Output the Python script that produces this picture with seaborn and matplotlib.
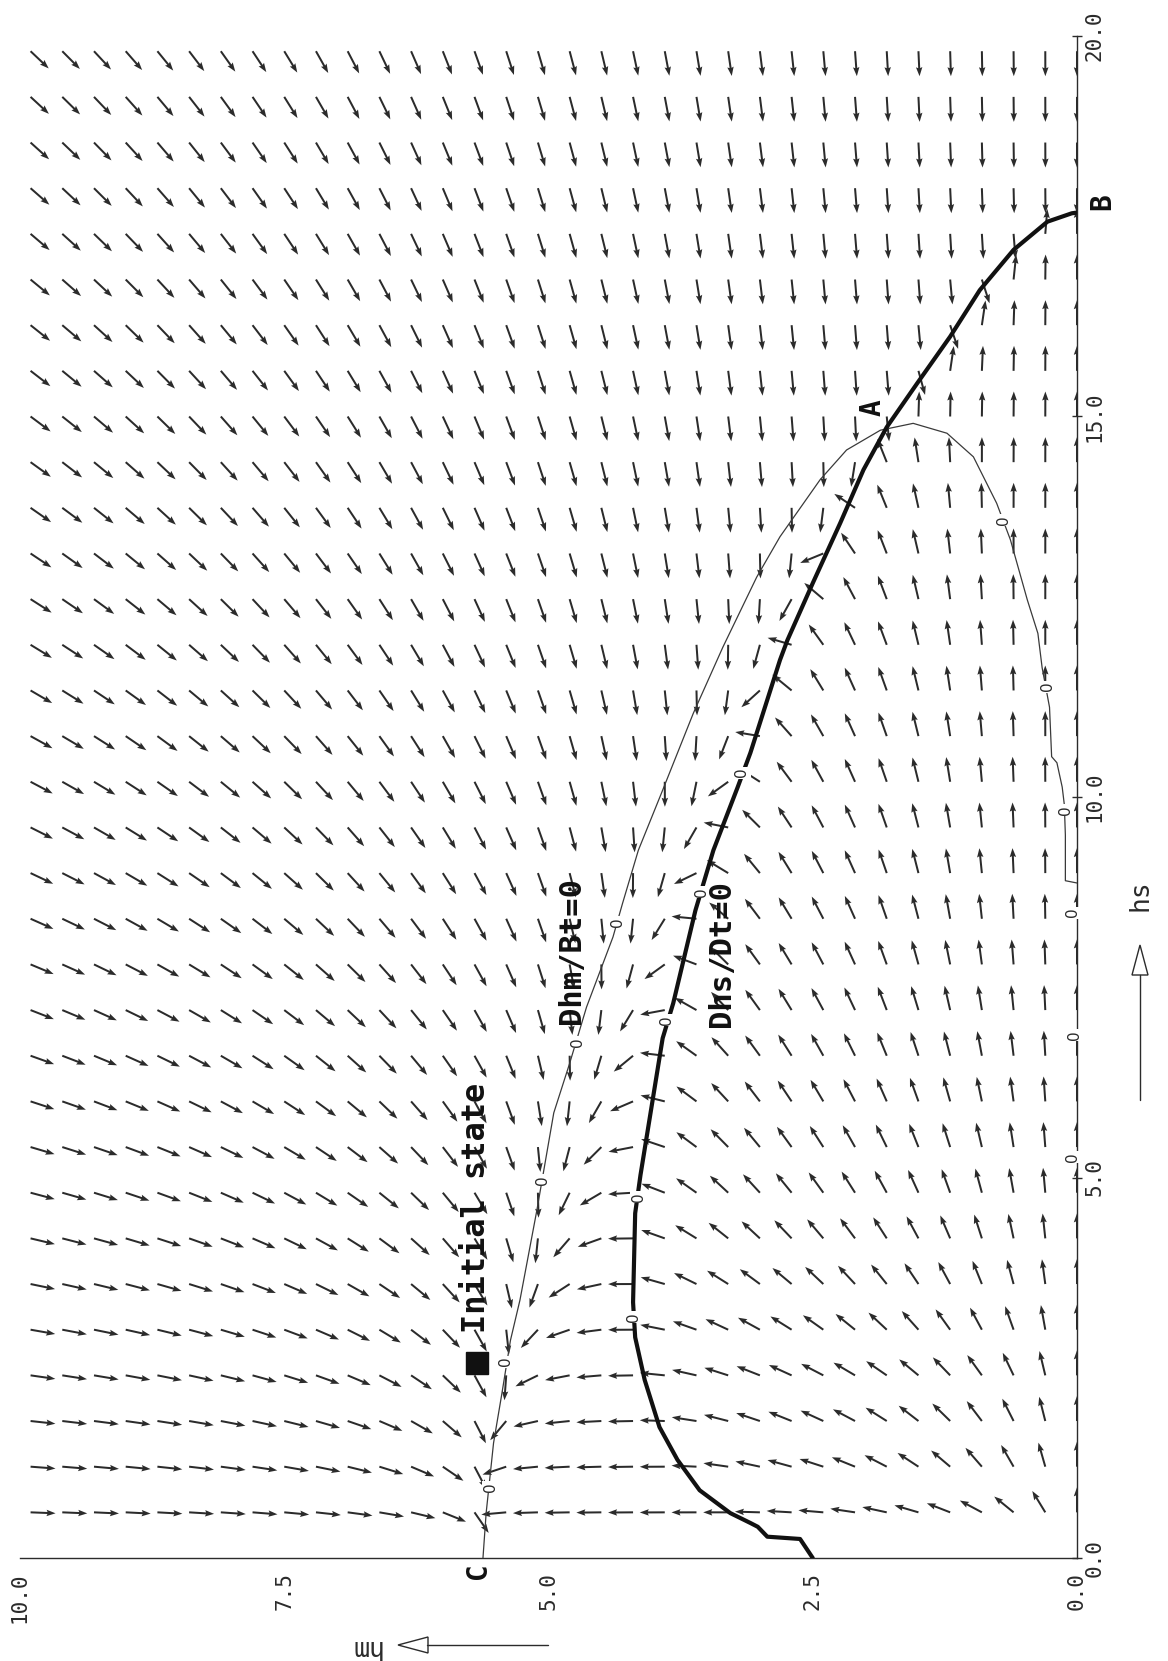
import numpy as np
import matplotlib
matplotlib.use("Agg")
import matplotlib.pyplot as plt
from matplotlib.path import Path
from matplotlib.lines import Line2D
from matplotlib.patches import Polygon
import seaborn as sns

# ---------------- data (hm, hs) ----------------
# Dhm/Dt = 0 contour (thin line), from C to the hs axis
thin_hm = [5.62, 5.59, 5.52, 5.44, 5.36, 5.27, 5.11, 5.00, 4.95, 4.80, 4.64, 4.39, 4.30,
           4.15, 3.92, 3.63, 3.35, 3.03, 2.81, 2.43, 2.18, 1.86, 1.55, 1.23, 0.98, 0.76,
           0.63, 0.47, 0.37, 0.33, 0.26, 0.24, 0.19, 0.14, 0.12, 0.11, 0.11, 0.00]
thin_hs = [0.00, 0.59, 1.51, 2.17, 2.86, 3.39, 4.57, 5.45, 5.85, 6.50, 7.24, 8.16, 8.60,
           9.30, 10.09, 11.10, 11.97, 12.89, 13.42, 14.17, 14.56, 14.82, 14.91, 14.78, 14.47, 13.86,
           13.38, 12.59, 12.15, 11.70, 11.18, 10.53, 10.45, 10.13, 9.90, 9.50, 8.90, 8.87]
# Dhs/Dt = 0 contour (thick line), from the hm axis to B
thick_hm = [2.50, 2.62, 2.93, 3.02, 3.09, 3.28, 3.57, 3.78, 3.95, 4.09, 4.18, 4.20, 4.18,
            4.13, 3.92, 3.82, 3.61, 3.44, 3.21, 3.09, 2.81, 2.74, 2.50, 2.24, 2.02, 1.80,
            1.51, 1.20, 0.92, 0.60, 0.28, 0.05, 0.00]
thick_hs = [0.00, 0.25, 0.28, 0.41, 0.46, 0.59, 0.89, 1.29, 1.72, 2.34, 2.90, 3.36, 4.53,
            5.03, 6.83, 7.29, 8.51, 9.30, 10.13, 10.58, 11.80, 12.06, 12.81, 13.60, 14.30, 14.86,
            15.44, 16.05, 16.66, 17.19, 17.56, 17.67, 17.68]
# contour labels "0"
thin_lab_hm = [5.55, 5.41, 5.06, 4.73, 4.35, 0.70, 0.28, 0.11, 0.04, 0.02, 0.04]
thin_lab_hs = [0.93, 2.58, 4.97, 6.78, 8.36, 13.64, 11.45, 9.83, 8.48, 6.87, 5.27]
thick_lab_hm = [3.17, 3.55, 3.88, 4.15, 4.20]
thick_lab_hs = [10.32, 8.75, 7.07, 4.74, 3.17]
# direction-field grid
grid_hm = [round(0.3 * i, 1) for i in range(34)]
grid_hs = [round(0.6 * j, 1) for j in range(1, 34)]
# ticks
hm_ticks = [10.0, 7.5, 5.0, 2.5, 0.0]
hm_tick_labels = ["10.0", "7.5", "5.0", "2.5", "0.0"]
hs_ticks = [0.0, 5.0, 10.0, 15.0, 20.0]
hs_tick_labels = ["0.0", "5.0", "10.0", "15.0", "20.0"]
# annotations
point_labels = ["A", "B", "C"]
point_hm = [1.93, -0.24, 5.67]
point_hs = [15.12, 17.82, -0.16]
init_hm = [5.68]
init_hs = [2.56]

# ---------------- figure ----------------
sns.set_theme(style="white")
plt.rcParams['font.family'] = ['DejaVu Sans Mono', 'DejaVu Sans']
INK = '#2b2b2b'

W, H = 1168, 1661
fig = plt.figure(figsize=(W / 100, H / 100), dpi=100)
L, R, B, T = 20, 1077, 1558, 36
ax = fig.add_axes([L / W, 1 - B / H, (R - L) / W, (B - T) / H])
ax.set_xlim(10, 0)
ax.set_ylim(0, 20)
Pm = (R - L) / 10.0
Ps = (B - T) / 20.0

# ---------------- direction field from the read nullclines ----------------
M, S = np.meshgrid(np.array(grid_hm), np.array(grid_hs))


def polyline_dist(px, py, lx, ly):
    d = np.full(px.shape, np.inf)
    for x0, y0, x1, y1 in zip(lx[:-1], ly[:-1], lx[1:], ly[1:]):
        dx, dy = x1 - x0, y1 - y0
        l2 = dx * dx + dy * dy
        t = np.zeros_like(px) if l2 == 0 else np.clip(((px - x0) * dx + (py - y0) * dy) / l2, 0, 1)
        d = np.minimum(d, np.hypot(px - (x0 + t * dx), py - (y0 + t * dy)))
    return d


PX, PY = M * Pm, S * Ps
tkx, tky = np.array(thick_hm) * Pm, np.array(thick_hs) * Ps
thx, thy = np.array(thin_hm) * Pm, np.array(thin_hs) * Ps

d_s = polyline_dist(PX, PY, tkx, tky) / Pm
Ms = np.interp(S, thick_hs, thick_hm)
sign_s = np.where((S <= thick_hs[-1]) & (M < Ms), 1.0, -1.0)
phi_s = sign_s * d_s

d_m = polyline_dist(PX, PY, thx, thy) / Pm
lobe = Path(list(zip(thin_hm, thin_hs)) + [(0.0, 0.0), (thin_hm[0], thin_hs[0])])
inside = lobe.contains_points(np.column_stack([M.ravel(), S.ravel()])).reshape(M.shape)
phi_m = np.where(inside, 1.0, -1.0) * d_m

A_plus = 5.5 + 5.5 * np.exp(-((S - 1.2) / 0.7) ** 2)
dhs = np.where(phi_s > 0, A_plus * np.tanh(phi_s / 0.8), S * phi_s)
dhm = np.where(phi_m > 0, M * np.tanh(phi_m / 1.5) * (18 * np.exp(-S / 1.2) + 0.9),
               0.16 * M ** 2 * phi_m)

Larr = 25.0
norm = np.sqrt((dhm * Pm) ** 2 + (dhs * Ps) ** 2) + 1e-9
U = Larr * dhm / norm
V = Larr * dhs / norm

ax.quiver(M, S, U, V, angles='xy', scale_units='xy', scale=1, pivot='tail',
          color=INK, width=0.0019, headwidth=3.2, headlength=4.5, headaxislength=4.0,
          zorder=2)

# ---------------- nullclines ----------------
sns.lineplot(x=thin_hm, y=thin_hs, sort=False, estimator=None, color='#3a3a3a',
             linewidth=0.9, ax=ax, zorder=3)
sns.lineplot(x=thick_hm, y=thick_hs, sort=False, estimator=None, color='#111111',
             linewidth=3.0, ax=ax, zorder=3)

for m, s in zip(thin_lab_hm + thick_lab_hm, thin_lab_hs + thick_lab_hs):
    ax.text(m, s, '0', rotation=90, fontsize=11, ha='center', va='center', color=INK,
            family='DejaVu Sans',
            bbox=dict(boxstyle='square,pad=0.08', fc='white', ec='none'),
            zorder=4, clip_on=False)

# ---------------- annotations ----------------
for lab, m, s in zip(point_labels, point_hm, point_hs):
    ax.text(m, s, lab, rotation=90, fontsize=20, fontweight='bold', ha='center',
            va='center', color='#111111', clip_on=False, zorder=5)

ax.plot(init_hm, init_hs, marker='s', ms=16, color='#111111', linestyle='none',
        clip_on=False, zorder=5)
ax.text(5.68, 4.60, 'Initial state', rotation=90, fontsize=23, fontweight='bold',
        ha='center', va='center', color='#111111', zorder=5)
ax.text(4.78, 7.98, 'Dhm/Bt=0', rotation=90, fontsize=22, fontweight='bold',
        ha='center', va='center', color='#111111', zorder=5)
ax.text(3.36, 7.94, 'Dhs/Dt=0', rotation=90, fontsize=22, fontweight='bold',
        ha='center', va='center', color='#111111', zorder=5)

# ---------------- axes ----------------
for side in ['left', 'top']:
    ax.spines[side].set_visible(False)
for side in ['bottom', 'right']:
    ax.spines[side].set_color(INK)
    ax.spines[side].set_linewidth(1.0)
ax.yaxis.set_ticks_position('right')
ax.set_xticks(hm_ticks)
ax.set_xticklabels(hm_tick_labels, rotation=90, fontsize=15, color=INK)
ax.set_yticks(hs_ticks)
ax.set_yticklabels(hs_tick_labels, rotation=90, fontsize=15, color=INK, va='center')
ax.tick_params(axis='both', direction='inout', length=7, width=1.0, color=INK)
ax.tick_params(axis='x', pad=7)
ax.tick_params(axis='y', pad=2)
ax.set_xlabel('')
ax.set_ylabel('')
ax.grid(False)

# axis labels with open-headed arrows
fig.text(365 / W, 1 - 1647 / H, 'hm', rotation=180, ha='center', va='center',
         fontsize=19, color=INK)
fig.add_artist(Line2D([427 / W, 548 / W], [1 - 1645 / H, 1 - 1645 / H], color=INK, lw=1.0))
fig.add_artist(Polygon([[398 / W, 1 - 1645 / H], [428 / W, 1 - 1637 / H], [428 / W, 1 - 1653 / H]],
                       closed=True, fc='white', ec=INK, lw=1.0))
fig.text(1140 / W, 1 - 895 / H, 'hs', rotation=90, ha='center', va='center',
         fontsize=19, color=INK)
fig.add_artist(Line2D([1140 / W, 1140 / W], [1 - 975 / H, 1 - 1100 / H], color=INK, lw=1.0))
fig.add_artist(Polygon([[1140 / W, 1 - 945 / H], [1132 / W, 1 - 975 / H], [1148 / W, 1 - 975 / H]],
                       closed=True, fc='white', ec=INK, lw=1.0))

fig.savefig('out.png', dpi=100, facecolor='white')
